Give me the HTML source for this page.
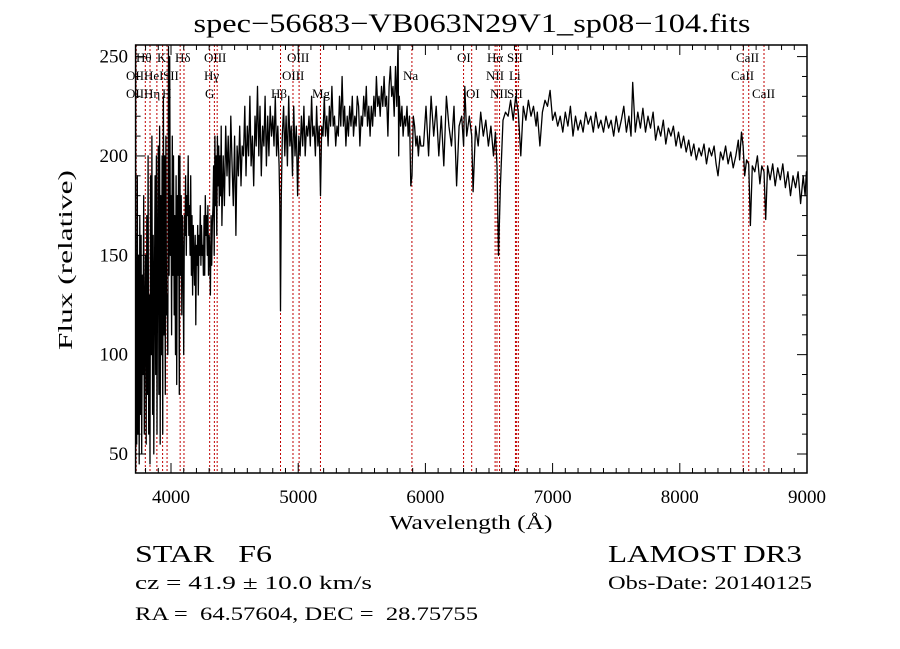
<!DOCTYPE html>
<html><head><meta charset="utf-8"><style>
html,body{margin:0;padding:0;background:#fff}
svg{display:block}
text{font-family:"Liberation Serif",serif;fill:#000;white-space:pre}
</style></head><body>
<svg id="chart" width="900" height="649" viewBox="0 0 900 649" xmlns="http://www.w3.org/2000/svg" xml:space="preserve">
<defs><clipPath id="clip"><rect x="135.6" y="45" width="671.4" height="428"/></clipPath></defs>
<text x="472" y="32" font-size="26" text-anchor="middle" textLength="557" lengthAdjust="spacingAndGlyphs">spec−56683−VB063N29V1_sp08−104.fits</text>
<g id="lines"></g>
<g id="labels"></g>
<g id="series" clip-path="url(#clip)"></g>
<g id="axes"></g>
<text x="471" y="529" font-size="20" text-anchor="middle" textLength="163" lengthAdjust="spacingAndGlyphs">Wavelength (Å)</text>
<text transform="translate(72,260) rotate(-90)" font-size="20" text-anchor="middle" textLength="180" lengthAdjust="spacingAndGlyphs">Flux (relative)</text>
<text x="135" y="562" font-size="24" textLength="137" lengthAdjust="spacingAndGlyphs">STAR   F6</text>
<text x="135" y="589" font-size="19" textLength="237" lengthAdjust="spacingAndGlyphs">cz = 41.9 ± 10.0 km/s</text>
<text x="135" y="620" font-size="19" textLength="343" lengthAdjust="spacingAndGlyphs">RA =  64.57604, DEC =  28.75755</text>
<text x="608" y="562" font-size="24" textLength="194" lengthAdjust="spacingAndGlyphs">LAMOST DR3</text>
<text x="608" y="589" font-size="19" textLength="204" lengthAdjust="spacingAndGlyphs">Obs-Date: 20140125</text>
</svg>
<script>
const waves = [3722,3725,3730,3735,3740,3745,3750,3755,3760,3765,3770,3775,3780,3785,3790,3795,3800,3805,3810,3815,3820,3825,3830,3835,3840,3845,3850,3855,3860,3865,3870,3875,3880,3885,3890,3895,3900,3905,3910,3915,3920,3925,3930,3935,3940,3945,3950,3955,3960,3965,3970,3975,3980,3985,3990,3995,4000,4005,4010,4015,4020,4025,4030,4035,4040,4045,4050,4055,4060,4065,4070,4075,4080,4085,4090,4095,4100,4105,4110,4115,4120,4125,4130,4135,4140,4145,4150,4155,4160,4165,4170,4175,4180,4185,4190,4195,4200,4205,4210,4215,4220,4225,4230,4235,4240,4245,4250,4255,4260,4265,4270,4275,4280,4285,4290,4295,4300,4305,4310,4315,4320,4325,4330,4335,4340,4345,4350,4355,4360,4365,4370,4375,4380,4385,4390,4395,4400,4410,4420,4430,4440,4450,4460,4470,4480,4490,4500,4510,4520,4530,4540,4550,4560,4570,4580,4590,4600,4610,4620,4630,4640,4650,4660,4670,4680,4690,4700,4710,4720,4730,4740,4750,4760,4770,4780,4790,4800,4810,4820,4830,4840,4850,4855,4861,4867,4875,4885,4895,4905,4915,4925,4935,4945,4955,4965,4975,4985,4995,5005,5015,5025,5035,5045,5055,5065,5075,5085,5095,5105,5115,5125,5135,5145,5155,5165,5175,5185,5195,5205,5215,5225,5235,5245,5255,5265,5275,5285,5295,5305,5315,5325,5335,5345,5355,5365,5375,5385,5395,5405,5415,5425,5435,5445,5455,5465,5475,5485,5495,5505,5515,5525,5535,5545,5555,5565,5575,5585,5595,5605,5615,5625,5635,5645,5655,5665,5675,5685,5695,5705,5715,5725,5735,5745,5755,5765,5775,5785,5790,5795,5805,5815,5825,5835,5845,5855,5865,5875,5885,5895,5905,5915,5925,5935,5945,5955,5965,5985,6005,6025,6045,6065,6085,6105,6125,6145,6165,6185,6205,6225,6245,6265,6285,6300,6310,6325,6345,6364,6375,6395,6415,6435,6455,6475,6495,6515,6535,6550,6563,6575,6590,6610,6630,6650,6670,6690,6710,6730,6750,6770,6790,6810,6830,6850,6870,6880,6900,6920,6940,6960,6980,7000,7020,7040,7060,7080,7100,7120,7140,7160,7180,7200,7220,7240,7260,7280,7300,7320,7340,7360,7380,7400,7420,7440,7460,7480,7500,7520,7540,7560,7580,7600,7616,7630,7650,7670,7690,7710,7730,7750,7770,7790,7810,7830,7850,7870,7890,7910,7930,7950,7970,7990,8010,8030,8050,8070,8090,8110,8130,8150,8170,8190,8210,8230,8250,8270,8285,8300,8320,8340,8360,8380,8400,8420,8440,8460,8470,8485,8498,8510,8525,8542,8555,8570,8590,8610,8630,8645,8662,8675,8690,8710,8730,8750,8770,8790,8810,8830,8850,8870,8890,8910,8930,8950,8970,8985,8995,9000];
const flux = [160,130,55,190,60,150,45,170,70,160,50,140,90,180,60,120,150,55,170,80,200,60,130,45,190,100,210,70,160,50,140,190,90,200,60,150,205,80,215,55,180,100,200,60,230,110,200,80,210,120,130,100,255,140,250,150,180,110,210,140,200,120,170,100,190,85,180,140,200,80,200,140,180,120,170,150,100,170,160,190,150,180,170,200,160,175,150,190,140,170,130,165,150,135,160,115,155,145,165,130,160,150,175,145,165,150,155,140,170,140,180,160,170,150,175,140,160,150,130,170,145,165,175,195,150,210,175,200,160,210,185,205,175,200,180,215,165,200,175,215,190,210,180,220,195,175,210,160,205,190,215,185,205,200,225,190,215,200,230,195,210,185,220,205,235,200,225,190,215,205,230,195,220,200,225,210,220,205,230,200,215,195,175,122,180,210,225,200,220,195,230,205,215,190,225,200,215,180,210,200,220,205,225,200,215,210,220,205,230,210,215,200,225,205,215,180,215,210,230,210,220,205,225,215,235,215,220,205,215,210,230,215,240,215,225,205,220,210,225,215,230,210,220,215,230,225,205,220,215,230,220,235,215,225,210,225,215,230,220,240,225,230,220,235,225,240,225,230,210,235,245,230,235,220,245,225,260,200,230,215,225,210,220,215,225,210,220,185,190,220,215,205,210,200,210,205,205,225,200,230,210,225,200,220,195,230,215,205,225,185,215,220,205,235,210,220,210,182,215,205,222,210,218,205,215,200,212,195,150,185,218,222,220,228,218,230,222,200,225,218,228,220,225,215,222,205,222,228,225,233,218,222,215,220,212,222,215,225,210,220,213,218,212,222,216,220,212,222,214,218,212,220,214,218,210,220,212,218,225,212,220,210,237,212,222,214,224,212,220,214,222,208,215,210,218,206,214,210,215,205,212,204,210,202,208,200,206,198,204,200,206,196,204,200,205,196,190,202,198,205,196,202,194,200,208,198,212,205,190,198,196,165,195,192,200,186,195,192,168,195,188,196,185,194,188,196,184,192,180,190,184,192,176,190,180,192,190,158];
const lineWaves = [3727,3798,3835,3889,3934,3969,4072,4102,4304,4341,4363,4861,4959,5007,5175,5894,6300,6364,6548,6563,6583,6708,6717,6731,8498,8542,8662];
const lineLabels = [
 ["Hθ",136,62],["K",157,62],["Hδ",175,62],["OIII",204,62],["OIII",287,62],["OI",457,62],["Hα",487,62],["SII",507,62],["CaII",736,62],
 ["OII",126,80],["HeI",144,80],["SII",163,80],["Hγ",204,80],["OIII",282,80],["Na",403,80],["NII",486,80],["Li",509,80],["CaII",731,80],
 ["OII",126,98],["Hη",144,98],["H",162,98],["G",205,98],["Hβ",271,98],["Mg",312,98],["OI",466,98],["NII",490,98],["SII",507,98],["CaII",752,98]
];
const xTicks = [4000,5000,6000,7000,8000,9000];
const yTicks = [50,100,150,200,250];
const NS="http://www.w3.org/2000/svg";
const L=135.6,R=807,T=45,B=473;
function xs(w){return 171+(w-4000)*0.1272;}
function ys(f){return 454-(f-50)*1.987;}
function mk(tag,attrs,parent){const e=document.createElementNS(NS,tag);for(const k in attrs)e.setAttribute(k,attrs[k]);parent.appendChild(e);return e;}
const gl=document.getElementById('lines');
lineWaves.forEach(w=>{
  const l=mk('line',{x1:xs(w),x2:xs(w),y1:T,y2:B,stroke:'#c00000','stroke-width':1,'stroke-dasharray':'2,2'},gl);
  
  
});
const glab=document.getElementById('labels');
lineLabels.forEach(a=>{
  const t=mk('text',{x:a[1],y:a[2],'font-size':13},glab);t.textContent=a[0];
  
  
});
let d='';
waves.forEach((w,i)=>{d+=(i?'L':'M')+xs(w).toFixed(1)+','+ys(flux[i]).toFixed(1);});
const p=mk('path',{d:d,fill:'none',stroke:'#000','stroke-width':1.3,'stroke-linejoin':'round'},document.getElementById('series'));


const ga=document.getElementById('axes');
const box=mk('rect',{x:L,y:T,width:R-L,height:B-T,fill:'none',stroke:'#000','stroke-width':1.5},ga);


for(let w=3800;w<=9000;w+=100){
  const x=xs(w);if(x<L)continue;const len=(w%1000===0)?10:5;
  mk('line',{x1:x,x2:x,y1:B,y2:B-len,stroke:'#000','stroke-width':1},ga);
  mk('line',{x1:x,x2:x,y1:T,y2:T+len,stroke:'#000','stroke-width':1},ga);
}
xTicks.forEach(w=>{
  const t=mk('text',{x:xs(w),y:503,'font-size':19,'text-anchor':'middle'},ga);t.textContent=w;
  
  
});
for(let f=50;f<=250;f+=10){
  const y=ys(f);const len=(f%50===0)?10:5;
  mk('line',{x1:L,x2:L+len,y1:y,y2:y,stroke:'#000','stroke-width':1},ga);
  mk('line',{x1:R,x2:R-len,y1:y,y2:y,stroke:'#000','stroke-width':1},ga);
}
yTicks.forEach(f=>{
  const t=mk('text',{x:128,y:ys(f)+6,'font-size':19,'text-anchor':'end'},ga);t.textContent=f;
  
  
});
</script>
</body></html>
